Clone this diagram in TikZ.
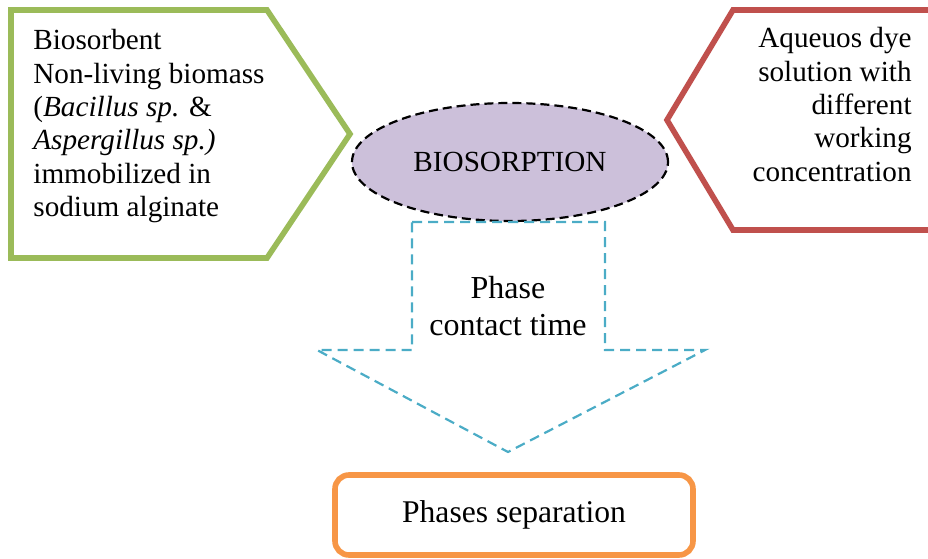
\documentclass[tikz,border=0pt]{standalone}
\usepackage{fontspec}
\setmainfont{Liberation Serif}
\usetikzlibrary{shapes.geometric}
\definecolor{sorbgreen}{HTML}{9BBB59}
\definecolor{dyered}{HTML}{C0504D}
\definecolor{phaseblue}{HTML}{4BACC6}
\definecolor{sepaorange}{HTML}{F79646}
\definecolor{lilac}{HTML}{CCC0DA}
\begin{document}
\begin{tikzpicture}[x=0.5pt, y=-0.5pt,
    font=\fontsize{14.6}{16.7}\selectfont,
    thickline/.style={line width=2.8pt, line join=miter},
    txt/.style={inner sep=0pt}]
            \useasboundingbox (0,0) rectangle (928,558);

            \draw[thickline, sorbgreen] (11,10) -- (267,10) -- (350,134) -- (267,258) -- (11,258) -- cycle;
            \node (sorbent) [txt, anchor=north west, align=left] at (33,29) {Biosorbent\\Non-living biomass\\(\textit{Bacillus sp.} \&\\\textit{Aspergillus sp.)}\\immobilized in\\sodium alginate};

            \draw[thickline, dyered] (940,10) -- (733,10) -- (667,120) -- (733,230) -- (940,230);
            \node (dye) [txt, anchor=north east, align=right] at (912,27) {Aqueuos dye\\solution with\\different\\working\\concentration};

            \node (biosorption) [draw, line width=1.1pt, dash pattern=on 4.5pt off 2.5pt, fill=lilac, shape=ellipse, minimum width=158pt, minimum height=59pt, anchor=center] at (510,162) {BIOSORPTION};

            \draw[phaseblue, line width=1.1pt, dash pattern=on 5pt off 3pt] (412,222) -- (605,222) -- (605,350) -- (705,350) -- (508,452) -- (317,350) -- (412,350) -- cycle;
            \node (contact) [txt, align=center, font=\fontsize{16}{18.5}\selectfont] at (508,306) {Phase\\contact time};

            \node (separation) [draw, sepaorange, line width=2.8pt, rounded corners=7pt, minimum width=179pt, minimum height=40pt, text=black, font=\fontsize{15.8}{18}\selectfont, anchor=center] at (514,515) {Phases separation};

        \end{tikzpicture}
\end{document}
